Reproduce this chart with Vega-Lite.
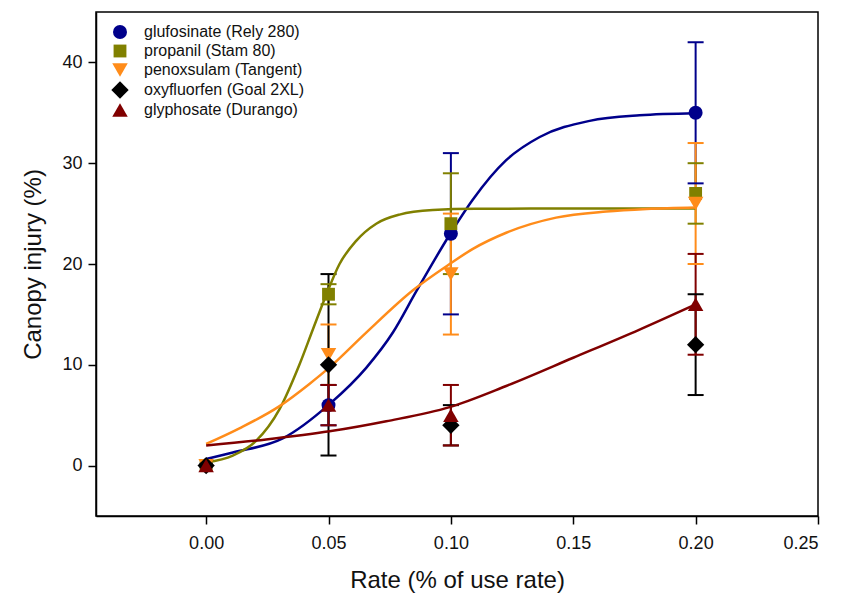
{
  "$schema": "https://vega.github.io/schema/vega-lite/v6.json",
  "width": 722,
  "height": 504,
  "autosize": {"type": "none"},
  "padding": {"left": 96, "top": 12, "right": 25, "bottom": 87},
  "background": "white",
  "config": {
    "view": {"stroke": "black", "strokeWidth": 1.5},
    "font": "Liberation Sans",
    "axis": {
      "domainColor": "black", "domainWidth": 1.5, "tickColor": "black", "tickWidth": 1.5, "tickSize": 8,
      "labelFont": "Liberation Sans", "labelFontSize": 18, "labelColor": "#111",
      "titleFont": "Liberation Sans", "titleFontSize": 24, "titleFontWeight": "normal", "titleColor": "#111",
      "grid": false
    },
    "legend": {"labelFont": "Liberation Sans", "labelFontSize": 16, "labelColor": "#111", "symbolOpacity": 1, "labelLimit": 400}
  },
  "datasets": {
    "pts": [
      {"herb": "glufosinate (Rely 280)", "rate": 0.0, "injury": 0, "lo": null, "hi": null},
      {"herb": "glufosinate (Rely 280)", "rate": 0.05, "injury": 6, "lo": 4, "hi": 8},
      {"herb": "glufosinate (Rely 280)", "rate": 0.1, "injury": 23, "lo": 15, "hi": 31},
      {"herb": "glufosinate (Rely 280)", "rate": 0.2, "injury": 35, "lo": 28, "hi": 42},
      {"herb": "propanil (Stam 80)", "rate": 0.0, "injury": 0, "lo": null, "hi": null},
      {"herb": "propanil (Stam 80)", "rate": 0.05, "injury": 17, "lo": 16, "hi": 18},
      {"herb": "propanil (Stam 80)", "rate": 0.1, "injury": 24, "lo": 19, "hi": 29},
      {"herb": "propanil (Stam 80)", "rate": 0.2, "injury": 27, "lo": 24, "hi": 30},
      {"herb": "penoxsulam (Tangent)", "rate": 0.0, "injury": 0, "lo": null, "hi": null},
      {"herb": "penoxsulam (Tangent)", "rate": 0.05, "injury": 11, "lo": 8, "hi": 14},
      {"herb": "penoxsulam (Tangent)", "rate": 0.1, "injury": 19, "lo": 13, "hi": 25},
      {"herb": "penoxsulam (Tangent)", "rate": 0.2, "injury": 26, "lo": 20, "hi": 32},
      {"herb": "oxyfluorfen (Goal 2XL)", "rate": 0.0, "injury": 0, "lo": null, "hi": null},
      {"herb": "oxyfluorfen (Goal 2XL)", "rate": 0.05, "injury": 10, "lo": 1, "hi": 19},
      {"herb": "oxyfluorfen (Goal 2XL)", "rate": 0.1, "injury": 4, "lo": 2, "hi": 6},
      {"herb": "oxyfluorfen (Goal 2XL)", "rate": 0.2, "injury": 12, "lo": 7, "hi": 17},
      {"herb": "glyphosate (Durango)", "rate": 0.0, "injury": 0, "lo": null, "hi": null},
      {"herb": "glyphosate (Durango)", "rate": 0.05, "injury": 6, "lo": 4, "hi": 8},
      {"herb": "glyphosate (Durango)", "rate": 0.1, "injury": 5, "lo": 2, "hi": 8},
      {"herb": "glyphosate (Durango)", "rate": 0.2, "injury": 16, "lo": 11, "hi": 21}
    ],
    "curves": [
      {"herb": "glufosinate (Rely 280)", "rate": 0.0, "fit": 0.66},
      {"herb": "glufosinate (Rely 280)", "rate": 0.0109, "fit": 1.3},
      {"herb": "glufosinate (Rely 280)", "rate": 0.0313, "fit": 2.7},
      {"herb": "glufosinate (Rely 280)", "rate": 0.0504, "fit": 6.1},
      {"herb": "glufosinate (Rely 280)", "rate": 0.0654, "fit": 9.7},
      {"herb": "glufosinate (Rely 280)", "rate": 0.0763, "fit": 13.2},
      {"herb": "glufosinate (Rely 280)", "rate": 0.0859, "fit": 17.3},
      {"herb": "glufosinate (Rely 280)", "rate": 0.0995, "fit": 22.9},
      {"herb": "glufosinate (Rely 280)", "rate": 0.109, "fit": 26.4},
      {"herb": "glufosinate (Rely 280)", "rate": 0.1226, "fit": 30.3},
      {"herb": "glufosinate (Rely 280)", "rate": 0.1363, "fit": 32.6},
      {"herb": "glufosinate (Rely 280)", "rate": 0.1567, "fit": 34.2},
      {"herb": "glufosinate (Rely 280)", "rate": 0.1771, "fit": 34.75},
      {"herb": "glufosinate (Rely 280)", "rate": 0.2, "fit": 34.95},
      {"herb": "propanil (Stam 80)", "rate": 0.0, "fit": 0.33},
      {"herb": "propanil (Stam 80)", "rate": 0.0109, "fit": 1.0},
      {"herb": "propanil (Stam 80)", "rate": 0.0204, "fit": 2.45},
      {"herb": "propanil (Stam 80)", "rate": 0.03, "fit": 5.6},
      {"herb": "propanil (Stam 80)", "rate": 0.0381, "fit": 10.0},
      {"herb": "propanil (Stam 80)", "rate": 0.0436, "fit": 13.5},
      {"herb": "propanil (Stam 80)", "rate": 0.049, "fit": 16.9},
      {"herb": "propanil (Stam 80)", "rate": 0.0545, "fit": 20.0},
      {"herb": "propanil (Stam 80)", "rate": 0.0613, "fit": 22.3},
      {"herb": "propanil (Stam 80)", "rate": 0.0695, "fit": 24.0},
      {"herb": "propanil (Stam 80)", "rate": 0.079, "fit": 24.9},
      {"herb": "propanil (Stam 80)", "rate": 0.0926, "fit": 25.35},
      {"herb": "propanil (Stam 80)", "rate": 0.11, "fit": 25.48},
      {"herb": "propanil (Stam 80)", "rate": 0.15, "fit": 25.5},
      {"herb": "propanil (Stam 80)", "rate": 0.2, "fit": 25.5},
      {"herb": "penoxsulam (Tangent)", "rate": 0.0, "fit": 2.15},
      {"herb": "penoxsulam (Tangent)", "rate": 0.0136, "fit": 3.7},
      {"herb": "penoxsulam (Tangent)", "rate": 0.03, "fit": 5.9},
      {"herb": "penoxsulam (Tangent)", "rate": 0.0422, "fit": 8.1},
      {"herb": "penoxsulam (Tangent)", "rate": 0.0504, "fit": 9.74},
      {"herb": "penoxsulam (Tangent)", "rate": 0.0654, "fit": 13.2},
      {"herb": "penoxsulam (Tangent)", "rate": 0.0845, "fit": 17.4},
      {"herb": "penoxsulam (Tangent)", "rate": 0.0995, "fit": 20.0},
      {"herb": "penoxsulam (Tangent)", "rate": 0.109, "fit": 21.5},
      {"herb": "penoxsulam (Tangent)", "rate": 0.1226, "fit": 23.1},
      {"herb": "penoxsulam (Tangent)", "rate": 0.143, "fit": 24.6},
      {"herb": "penoxsulam (Tangent)", "rate": 0.1635, "fit": 25.2},
      {"herb": "penoxsulam (Tangent)", "rate": 0.18, "fit": 25.45},
      {"herb": "penoxsulam (Tangent)", "rate": 0.2, "fit": 25.6},
      {"herb": "glyphosate (Durango)", "rate": 0.0, "fit": 2.0},
      {"herb": "glyphosate (Durango)", "rate": 0.0245, "fit": 2.6},
      {"herb": "glyphosate (Durango)", "rate": 0.0504, "fit": 3.4},
      {"herb": "glyphosate (Durango)", "rate": 0.0736, "fit": 4.4},
      {"herb": "glyphosate (Durango)", "rate": 0.0995, "fit": 5.8},
      {"herb": "glyphosate (Durango)", "rate": 0.1226, "fit": 7.9},
      {"herb": "glyphosate (Durango)", "rate": 0.15, "fit": 10.7},
      {"herb": "glyphosate (Durango)", "rate": 0.1771, "fit": 13.5},
      {"herb": "glyphosate (Durango)", "rate": 0.2, "fit": 16.0}
    ]
  },
  "layer": [
    {
      "data": {"name": "pts"},
      "transform": [{"filter": "datum.lo != null"}],
      "mark": {"type": "rule", "strokeWidth": 2, "opacity": 1},
      "encoding": {
        "x": {"field": "rate", "type": "quantitative"},
        "y": {"field": "lo", "type": "quantitative"},
        "y2": {"field": "hi"},
        "color": {"field": "herb", "type": "nominal"}
      }
    },
    {
      "data": {"name": "pts"},
      "transform": [{"filter": "datum.lo != null"}],
      "mark": {"type": "tick", "orient": "horizontal", "size": 16, "thickness": 2, "opacity": 1},
      "encoding": {
        "x": {"field": "rate", "type": "quantitative"},
        "y": {"field": "lo", "type": "quantitative"},
        "color": {"field": "herb", "type": "nominal"}
      }
    },
    {
      "data": {"name": "pts"},
      "transform": [{"filter": "datum.lo != null"}],
      "mark": {"type": "tick", "orient": "horizontal", "size": 16, "thickness": 2, "opacity": 1},
      "encoding": {
        "x": {"field": "rate", "type": "quantitative"},
        "y": {"field": "hi", "type": "quantitative"},
        "color": {"field": "herb", "type": "nominal"}
      }
    },
    {
      "data": {"name": "curves"},
      "mark": {"type": "line", "interpolate": "monotone", "strokeWidth": 2.5},
      "encoding": {
        "x": {"field": "rate", "type": "quantitative"},
        "y": {"field": "fit", "type": "quantitative"},
        "color": {"field": "herb", "type": "nominal"},
        "detail": {"field": "herb"}
      }
    },
    {
      "data": {"name": "pts"},
      "mark": {"type": "point", "filled": true, "opacity": 1},
      "encoding": {
        "x": {
          "field": "rate", "type": "quantitative",
          "scale": {"domain": [-0.045, 0.25], "nice": false, "zero": false},
          "axis": {"values": [0, 0.05, 0.1, 0.15, 0.2, 0.25], "format": ".2f", "title": "Rate (% of use rate)", "labelPadding": 10, "titlePadding": 16}
        },
        "y": {
          "field": "injury", "type": "quantitative",
          "scale": {"domain": [-5, 45], "nice": false, "zero": false},
          "axis": {"values": [0, 10, 20, 30, 40], "title": "Canopy injury (%)", "labelPadding": 6, "titlePadding": 16}
        },
        "size": {
          "field": "herb", "type": "nominal",
          "scale": {
            "type": "ordinal",
            "domain": ["glufosinate (Rely 280)", "propanil (Stam 80)", "penoxsulam (Tangent)", "oxyfluorfen (Goal 2XL)", "glyphosate (Durango)"],
            "range": [195, 165, 240, 300, 240]
          },
          "legend": {
            "title": null, "orient": "none", "legendX": 15, "legendY": 12,
            "symbolStrokeWidth": 0, "labelOffset": 15, "rowPadding": 3, "padding": 0
          }
        },
        "color": {
          "field": "herb", "type": "nominal",
          "scale": {
            "domain": ["glufosinate (Rely 280)", "propanil (Stam 80)", "penoxsulam (Tangent)", "oxyfluorfen (Goal 2XL)", "glyphosate (Durango)"],
            "range": ["#00008B", "#808000", "#FF8C1A", "#000000", "#800000"]
          },
          "legend": {
            "title": null, "orient": "none", "legendX": 15, "legendY": 12,
            "symbolStrokeWidth": 0, "labelOffset": 15, "rowPadding": 3, "padding": 0
          }
        },
        "shape": {
          "field": "herb", "type": "nominal",
          "scale": {
            "domain": ["glufosinate (Rely 280)", "propanil (Stam 80)", "penoxsulam (Tangent)", "oxyfluorfen (Goal 2XL)", "glyphosate (Durango)"],
            "range": ["circle", "square", "triangle-down", "diamond", "triangle-up"]
          },
          "legend": {
            "title": null, "orient": "none", "legendX": 15, "legendY": 12,
            "symbolStrokeWidth": 0, "labelOffset": 15, "rowPadding": 3, "padding": 0
          }
        }
      }
    }
  ]
}
